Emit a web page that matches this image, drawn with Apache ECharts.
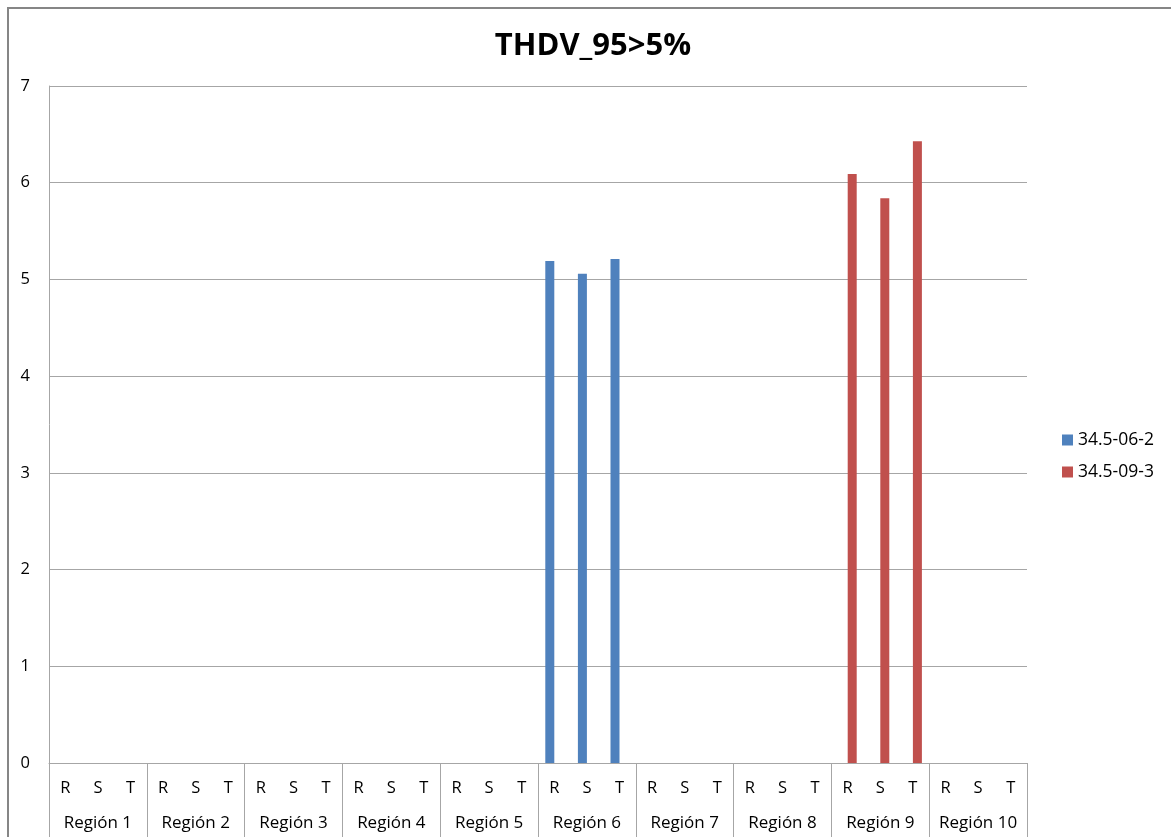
<!DOCTYPE html>
<html>
<head>
<meta charset="utf-8">
<script src="https://cdn.jsdelivr.net/npm/echarts@6/dist/echarts.min.js"></script>
<style>html,body{margin:0;padding:0;background:#fff;}#c{width:1171px;height:837px;}</style>
</head>
<body>
<div id="c"></div>
<script>
const regions = ['Región 1','Región 2','Región 3','Región 4','Región 5','Región 6','Región 7','Región 8','Región 9','Región 10'];
const phases = ['R','S','T'];
const seriesNames = ['34.5-06-2','34.5-09-3'];
// values per region (R,S,T); null = no bar
const s1Values = [null,null,null, null,null,null, null,null,null, null,null,null, null,null,null, 5.19,5.06,5.21, null,null,null, null,null,null, null,null,null, null,null,null];
const s2Values = [null,null,null, null,null,null, null,null,null, null,null,null, null,null,null, null,null,null, null,null,null, null,null,null, 6.09,5.84,6.43, null,null,null];
const yTicks = [0,1,2,3,4,5,6,7];

const cats = [];
regions.forEach(r => phases.forEach(p => cats.push(p)));
const font = '"Open Sans", "DejaVu Sans", sans-serif';

const chart = echarts.init(document.getElementById('c'));
chart.setOption({
  animation: false,
  backgroundColor: '#fff',
  graphic: [{
    type: 'rect', shape: {x: 8, y: 8, width: 1200, height: 900},
    style: {fill: 'none', stroke: '#868686', lineWidth: 2}, z: -1
  }],
  title: {
    text: 'THDV_95>5%', left: 588, top: 26, textAlign: 'center',
    textStyle: {fontFamily: font, fontWeight: 'bold', fontSize: 31, color: '#000'}
  },
  legend: {
    orient: 'vertical', left: 1057, top: 426, itemWidth: 11, itemHeight: 11, itemGap: 14,
    icon: 'rect',
    textStyle: {fontFamily: font, fontSize: 17.5, color: '#000'},
    data: seriesNames
  },
  grid: {left: 49, top: 86, right: 144, bottom: 74},
  xAxis: [{
    type: 'category', data: cats, position: 'bottom',
    axisLine: {show: true, lineStyle: {color: '#a6a6a6', width: 1}},
    axisTick: {show: false},
    axisLabel: {fontFamily: font, fontSize: 16.5, color: '#000', margin: 17, interval: 0}
  }, {
    type: 'category', data: regions, position: 'bottom',
    axisLine: {show: false},
    axisTick: {show: true, length: 74, lineStyle: {color: '#a6a6a6'}},
    axisLabel: {fontFamily: font, fontSize: 17, color: '#000', margin: 52, interval: 0}
  }],
  yAxis: {
    type: 'value', min: yTicks[0], max: yTicks[yTicks.length-1], interval: 1,
    axisLine: {show: true, lineStyle: {color: '#a6a6a6'}},
    axisTick: {show: false},
    axisLabel: {fontFamily: font, fontSize: 16.5, color: '#000', margin: 19},
    splitLine: {show: true, lineStyle: {color: '#a6a6a6', width: 1}}
  },
  series: [{
    name: seriesNames[0], type: 'bar', data: s1Values, barWidth: 9, barGap: '0%',
    itemStyle: {color: '#4f81bd'}
  }, {
    name: seriesNames[1], type: 'bar', data: s2Values, barWidth: 9, barGap: '0%',
    itemStyle: {color: '#c0504d'}
  }]
});
</script>
</body>
</html>
